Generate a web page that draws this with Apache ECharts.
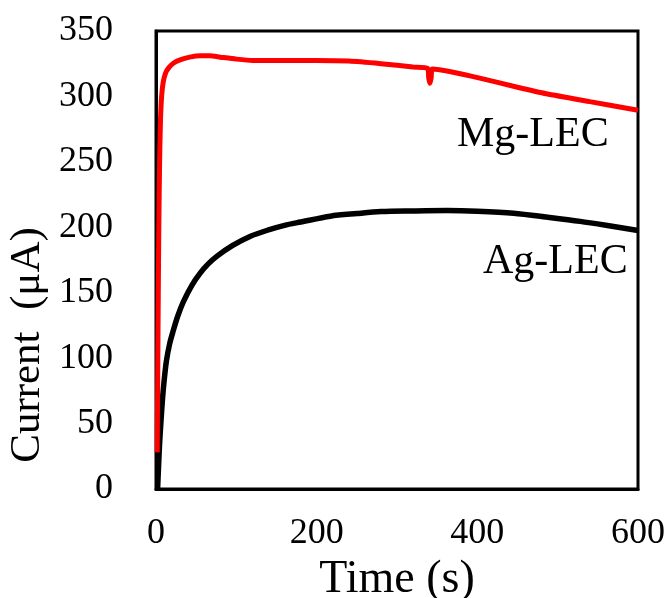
<!DOCTYPE html>
<html>
<head>
<meta charset="utf-8">
<script src="https://cdn.jsdelivr.net/npm/echarts@6/dist/echarts.min.js"></script>
<style>html,body{margin:0;padding:0;background:#fff}#c{width:668px;height:598px}</style>
</head>
<body>
<div id="c"></div>
<script>
// Mg-LEC (red) current vs time
var mgTime    = [1.5, 2.5, 3.5, 4.5, 5.5, 7, 9, 12, 16, 22, 30, 42, 55, 67, 80, 100, 120, 160, 200, 240, 280, 320, 338, 339.5, 341, 342.5, 344, 370, 403, 450, 486, 540, 600];
var mgCurrent = [28, 120, 200, 250, 280, 300, 311, 318, 322, 325.5, 328, 330, 331, 331, 330, 328.5, 327.5, 327.5, 327.5, 327, 325, 322.5, 321.5, 314, 310, 314, 321, 318.5, 314, 307, 302, 296, 289.5];
// Ag-LEC (black) current vs time
var agTime    = [2, 3, 4.5, 6, 8, 10, 13, 17, 21, 27, 34, 45, 55, 65, 76, 95, 117, 140, 160, 180, 217, 250, 280, 320, 362, 400, 445, 490, 528, 560, 600];
var agCurrent = [0, 15, 35, 50, 68, 82, 98, 111, 120, 132, 143, 156, 165, 172, 178, 186, 193, 198, 201.5, 204, 208.5, 210.5, 212, 212.5, 212.8, 212.3, 210.8, 207.5, 204.5, 201.5, 197.5];
var xTicks = [0, 200, 400, 600];
var yTicks = [0, 50, 100, 150, 200, 250, 300, 350];
var seriesNames = ['Mg-LEC', 'Ag-LEC'];
var xTitle = 'Time (s)';
var yTitle = 'Current  (μA)';

function pairs(t, v) { return t.map(function (x, i) { return [x, v[i]]; }); }

var FONT = "'Liberation Serif', 'Times New Roman', serif";
var chart = echarts.init(document.getElementById('c'), null, {renderer: 'canvas'});
chart.setOption({
  backgroundColor: '#fff',
  animation: false,
  grid: {left: 156, top: 31, right: 30, bottom: 109, containLabel: false, outerBoundsMode: 'none',
         show: true, borderColor: '#000', borderWidth: 3, backgroundColor: 'transparent'},
  xAxis: {
    type: 'value', min: xTicks[0], max: xTicks[xTicks.length - 1], interval: 200,
    name: xTitle, nameLocation: 'middle', nameGap: 62,
    nameTextStyle: {fontFamily: FONT, fontSize: 46, color: '#000', lineHeight: 46},
    axisLine: {show: true, onZero: false, lineStyle: {color: '#000', width: 3}},
    axisTick: {show: false},
    splitLine: {show: false},
    axisLabel: {fontFamily: FONT, fontSize: 36, color: '#000', margin: 27, lineHeight: 36}
  },
  yAxis: {
    type: 'value', min: yTicks[0], max: yTicks[yTicks.length - 1], interval: 50,
    axisLine: {show: true, onZero: false, lineStyle: {color: '#000', width: 3}},
    axisTick: {show: false},
    splitLine: {show: false},
    axisLabel: {fontFamily: FONT, fontSize: 36, color: '#000', margin: 43}
  },
  graphic: [
    {type: 'text', x: 28, y: 345, rotation: Math.PI / 2,
     style: {text: yTitle, font: "43px " + FONT, fill: '#000', align: 'center', verticalAlign: 'middle'}},
    {type: 'text', x: 457, y: 135,
     style: {text: seriesNames[0], font: "42px " + FONT, fill: '#000', align: 'left', verticalAlign: 'middle'}},
    {type: 'text', x: 483, y: 262,
     style: {text: seriesNames[1], font: "42px " + FONT, fill: '#000', align: 'left', verticalAlign: 'middle'}}
  ],
  series: [
    {name: seriesNames[1], type: 'line', data: pairs(agTime, agCurrent), showSymbol: false, smooth: 0.3,
     lineStyle: {color: '#000', width: 5.5}, z: 2},
    {name: seriesNames[0], type: 'line', data: pairs(mgTime, mgCurrent), showSymbol: false, smooth: 0.2,
     lineStyle: {color: '#ff0000', width: 5}, z: 3}
  ]
});
</script>
</body>
</html>
